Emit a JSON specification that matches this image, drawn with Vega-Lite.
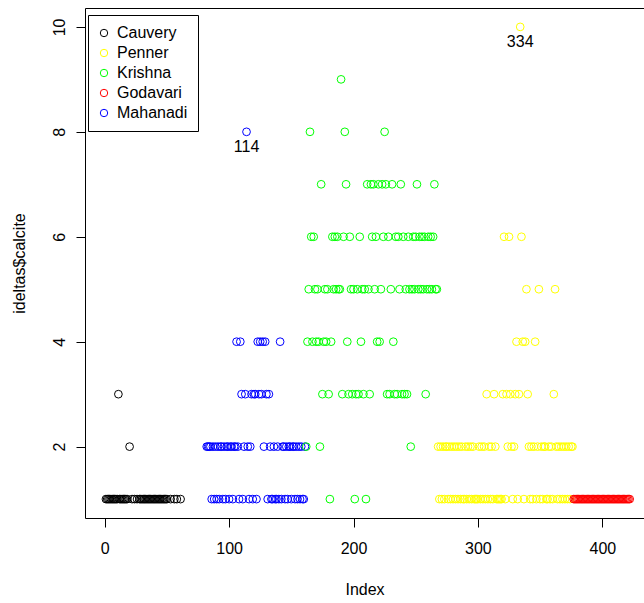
{
  "$schema": "https://vega.github.io/schema/vega-lite/v6.json",
  "autosize": "none",
  "width": 559,
  "height": 510,
  "padding": {"left": 85, "top": 8, "right": 0, "bottom": 85},
  "background": "white",
  "config": {
    "view": {"stroke": null},
    "font": "Liberation Sans",
    "axis": {"grid": false, "domainColor": "black", "tickColor": "black", "labelColor": "black", "titleColor": "black", "labelFont": "Liberation Sans", "titleFont": "Liberation Sans", "labelFontSize": 16, "titleFontSize": 16, "titleFontWeight": "normal", "tickSize": 9, "domainWidth": 1, "tickWidth": 1}
  },
  "datasets": {
    "pts": [
      {"i":1,"v":1,"r":"Cauvery"},{"i":2,"v":1,"r":"Cauvery"},{"i":3,"v":1,"r":"Cauvery"},{"i":4,"v":1,"r":"Cauvery"},{"i":5,"v":1,"r":"Cauvery"},{"i":6,"v":1,"r":"Cauvery"},{"i":7,"v":1,"r":"Cauvery"},{"i":8,"v":1,"r":"Cauvery"},{"i":9,"v":1,"r":"Cauvery"},{"i":10,"v":1,"r":"Cauvery"},
      {"i":11,"v":3,"r":"Cauvery"},{"i":12,"v":1,"r":"Cauvery"},{"i":13,"v":1,"r":"Cauvery"},{"i":14,"v":1,"r":"Cauvery"},{"i":15,"v":1,"r":"Cauvery"},{"i":16,"v":1,"r":"Cauvery"},{"i":17,"v":1,"r":"Cauvery"},{"i":18,"v":1,"r":"Cauvery"},
      {"i":20,"v":2,"r":"Cauvery"},{"i":22,"v":1,"r":"Cauvery"},{"i":24,"v":1,"r":"Cauvery"},{"i":26,"v":1,"r":"Cauvery"},
      {"i":28,"v":1,"r":"Cauvery"},{"i":29,"v":1,"r":"Cauvery"},{"i":30,"v":1,"r":"Cauvery"},{"i":31,"v":1,"r":"Cauvery"},{"i":32,"v":1,"r":"Cauvery"},{"i":33,"v":1,"r":"Cauvery"},{"i":34,"v":1,"r":"Cauvery"},{"i":35,"v":1,"r":"Cauvery"},{"i":36,"v":1,"r":"Cauvery"},{"i":37,"v":1,"r":"Cauvery"},{"i":38,"v":1,"r":"Cauvery"},{"i":39,"v":1,"r":"Cauvery"},{"i":40,"v":1,"r":"Cauvery"},{"i":41,"v":1,"r":"Cauvery"},{"i":42,"v":1,"r":"Cauvery"},{"i":43,"v":1,"r":"Cauvery"},{"i":44,"v":1,"r":"Cauvery"},{"i":45,"v":1,"r":"Cauvery"},{"i":46,"v":1,"r":"Cauvery"},{"i":47,"v":1,"r":"Cauvery"},{"i":48,"v":1,"r":"Cauvery"},{"i":49,"v":1,"r":"Cauvery"},{"i":50,"v":1,"r":"Cauvery"},
      {"i":53,"v":1,"r":"Cauvery"},{"i":56,"v":1,"r":"Cauvery"},{"i":58,"v":1,"r":"Cauvery"},{"i":61,"v":1,"r":"Cauvery"},
      {"i":82,"v":2,"r":"Mahanadi"},{"i":83,"v":2,"r":"Mahanadi"},{"i":84,"v":2,"r":"Mahanadi"},{"i":85,"v":2,"r":"Mahanadi"},{"i":86,"v":1,"r":"Mahanadi"},{"i":87,"v":2,"r":"Mahanadi"},{"i":88,"v":1,"r":"Mahanadi"},{"i":89,"v":2,"r":"Mahanadi"},{"i":90,"v":1,"r":"Mahanadi"},
      {"i":91,"v":2,"r":"Mahanadi"},{"i":92,"v":1,"r":"Mahanadi"},{"i":93,"v":2,"r":"Mahanadi"},{"i":94,"v":2,"r":"Mahanadi"},{"i":95,"v":1,"r":"Mahanadi"},{"i":96,"v":2,"r":"Mahanadi"},{"i":97,"v":1,"r":"Mahanadi"},{"i":98,"v":2,"r":"Mahanadi"},{"i":99,"v":2,"r":"Mahanadi"},{"i":100,"v":1,"r":"Mahanadi"},
      {"i":101,"v":2,"r":"Mahanadi"},{"i":102,"v":2,"r":"Mahanadi"},{"i":103,"v":1,"r":"Mahanadi"},{"i":104,"v":2,"r":"Mahanadi"},{"i":105,"v":2,"r":"Mahanadi"},{"i":106,"v":4,"r":"Mahanadi"},{"i":107,"v":2,"r":"Mahanadi"},{"i":108,"v":1,"r":"Mahanadi"},{"i":109,"v":4,"r":"Mahanadi"},{"i":110,"v":3,"r":"Mahanadi"},
      {"i":111,"v":1,"r":"Mahanadi"},{"i":112,"v":2,"r":"Mahanadi"},{"i":113,"v":3,"r":"Mahanadi"},{"i":114,"v":8,"r":"Mahanadi"},{"i":115,"v":2,"r":"Mahanadi"},{"i":116,"v":1,"r":"Mahanadi"},{"i":117,"v":2,"r":"Mahanadi"},{"i":118,"v":3,"r":"Mahanadi"},{"i":119,"v":1,"r":"Mahanadi"},{"i":120,"v":3,"r":"Mahanadi"},
      {"i":121,"v":3,"r":"Mahanadi"},{"i":122,"v":1,"r":"Mahanadi"},{"i":123,"v":4,"r":"Mahanadi"},{"i":124,"v":3,"r":"Mahanadi"},{"i":125,"v":4,"r":"Mahanadi"},{"i":126,"v":3,"r":"Mahanadi"},{"i":127,"v":4,"r":"Mahanadi"},{"i":128,"v":2,"r":"Mahanadi"},{"i":129,"v":4,"r":"Mahanadi"},{"i":130,"v":3,"r":"Mahanadi"},
      {"i":131,"v":1,"r":"Mahanadi"},{"i":132,"v":3,"r":"Mahanadi"},{"i":133,"v":2,"r":"Mahanadi"},{"i":134,"v":1,"r":"Mahanadi"},{"i":135,"v":1,"r":"Mahanadi"},{"i":136,"v":2,"r":"Mahanadi"},{"i":137,"v":1,"r":"Mahanadi"},{"i":138,"v":1,"r":"Mahanadi"},{"i":139,"v":2,"r":"Mahanadi"},{"i":140,"v":1,"r":"Mahanadi"},
      {"i":141,"v":4,"r":"Mahanadi"},{"i":142,"v":1,"r":"Mahanadi"},{"i":143,"v":2,"r":"Mahanadi"},{"i":144,"v":2,"r":"Mahanadi"},{"i":145,"v":1,"r":"Mahanadi"},{"i":146,"v":2,"r":"Mahanadi"},{"i":147,"v":1,"r":"Mahanadi"},{"i":148,"v":2,"r":"Mahanadi"},{"i":149,"v":2,"r":"Mahanadi"},{"i":150,"v":1,"r":"Mahanadi"},
      {"i":151,"v":2,"r":"Mahanadi"},{"i":152,"v":2,"r":"Mahanadi"},{"i":153,"v":1,"r":"Mahanadi"},{"i":154,"v":2,"r":"Mahanadi"},{"i":155,"v":1,"r":"Mahanadi"},{"i":156,"v":2,"r":"Mahanadi"},{"i":157,"v":1,"r":"Mahanadi"},{"i":158,"v":2,"r":"Mahanadi"},{"i":159,"v":1,"r":"Mahanadi"},{"i":160,"v":1,"r":"Mahanadi"},{"i":161,"v":2,"r":"Mahanadi"},
      {"i":162,"v":2,"r":"Krishna"},{"i":163,"v":4,"r":"Krishna"},{"i":164,"v":5,"r":"Krishna"},{"i":165,"v":8,"r":"Krishna"},{"i":166,"v":6,"r":"Krishna"},{"i":167,"v":4,"r":"Krishna"},{"i":168,"v":6,"r":"Krishna"},{"i":169,"v":5,"r":"Krishna"},{"i":170,"v":4,"r":"Krishna"},
      {"i":171,"v":5,"r":"Krishna"},{"i":172,"v":4,"r":"Krishna"},{"i":173,"v":2,"r":"Krishna"},{"i":174,"v":7,"r":"Krishna"},{"i":175,"v":3,"r":"Krishna"},{"i":176,"v":4,"r":"Krishna"},{"i":177,"v":5,"r":"Krishna"},{"i":178,"v":4,"r":"Krishna"},{"i":179,"v":5,"r":"Krishna"},{"i":180,"v":3,"r":"Krishna"},
      {"i":181,"v":1,"r":"Krishna"},{"i":182,"v":4,"r":"Krishna"},{"i":183,"v":6,"r":"Krishna"},{"i":184,"v":5,"r":"Krishna"},{"i":185,"v":6,"r":"Krishna"},{"i":186,"v":5,"r":"Krishna"},{"i":187,"v":6,"r":"Krishna"},{"i":188,"v":5,"r":"Krishna"},{"i":189,"v":5,"r":"Krishna"},{"i":190,"v":9,"r":"Krishna"},
      {"i":191,"v":3,"r":"Krishna"},{"i":192,"v":6,"r":"Krishna"},{"i":193,"v":8,"r":"Krishna"},{"i":194,"v":7,"r":"Krishna"},{"i":195,"v":4,"r":"Krishna"},{"i":196,"v":3,"r":"Krishna"},{"i":197,"v":6,"r":"Krishna"},{"i":198,"v":5,"r":"Krishna"},{"i":199,"v":3,"r":"Krishna"},{"i":200,"v":5,"r":"Krishna"},
      {"i":201,"v":1,"r":"Krishna"},{"i":202,"v":3,"r":"Krishna"},{"i":203,"v":5,"r":"Krishna"},{"i":204,"v":3,"r":"Krishna"},{"i":205,"v":6,"r":"Krishna"},{"i":206,"v":4,"r":"Krishna"},{"i":207,"v":5,"r":"Krishna"},{"i":208,"v":3,"r":"Krishna"},{"i":209,"v":5,"r":"Krishna"},{"i":210,"v":1,"r":"Krishna"},
      {"i":211,"v":7,"r":"Krishna"},{"i":212,"v":5,"r":"Krishna"},{"i":213,"v":3,"r":"Krishna"},{"i":214,"v":7,"r":"Krishna"},{"i":215,"v":6,"r":"Krishna"},{"i":216,"v":7,"r":"Krishna"},{"i":217,"v":5,"r":"Krishna"},{"i":218,"v":6,"r":"Krishna"},{"i":219,"v":4,"r":"Krishna"},{"i":220,"v":7,"r":"Krishna"},
      {"i":221,"v":4,"r":"Krishna"},{"i":222,"v":5,"r":"Krishna"},{"i":223,"v":7,"r":"Krishna"},{"i":224,"v":6,"r":"Krishna"},{"i":225,"v":8,"r":"Krishna"},{"i":226,"v":7,"r":"Krishna"},{"i":227,"v":3,"r":"Krishna"},{"i":228,"v":6,"r":"Krishna"},{"i":229,"v":3,"r":"Krishna"},{"i":230,"v":5,"r":"Krishna"},
      {"i":231,"v":7,"r":"Krishna"},{"i":232,"v":4,"r":"Krishna"},{"i":233,"v":3,"r":"Krishna"},{"i":234,"v":6,"r":"Krishna"},{"i":235,"v":3,"r":"Krishna"},{"i":236,"v":6,"r":"Krishna"},{"i":237,"v":5,"r":"Krishna"},{"i":238,"v":7,"r":"Krishna"},{"i":239,"v":3,"r":"Krishna"},{"i":240,"v":6,"r":"Krishna"},
      {"i":241,"v":3,"r":"Krishna"},{"i":242,"v":5,"r":"Krishna"},{"i":243,"v":3,"r":"Krishna"},{"i":244,"v":6,"r":"Krishna"},{"i":245,"v":5,"r":"Krishna"},{"i":246,"v":2,"r":"Krishna"},{"i":247,"v":5,"r":"Krishna"},{"i":248,"v":6,"r":"Krishna"},{"i":249,"v":5,"r":"Krishna"},{"i":250,"v":6,"r":"Krishna"},
      {"i":251,"v":7,"r":"Krishna"},{"i":252,"v":5,"r":"Krishna"},{"i":253,"v":6,"r":"Krishna"},{"i":254,"v":5,"r":"Krishna"},{"i":255,"v":6,"r":"Krishna"},{"i":256,"v":5,"r":"Krishna"},{"i":257,"v":6,"r":"Krishna"},{"i":258,"v":3,"r":"Krishna"},{"i":259,"v":5,"r":"Krishna"},{"i":260,"v":6,"r":"Krishna"},
      {"i":261,"v":5,"r":"Krishna"},{"i":262,"v":6,"r":"Krishna"},{"i":263,"v":5,"r":"Krishna"},{"i":264,"v":6,"r":"Krishna"},{"i":265,"v":7,"r":"Krishna"},{"i":266,"v":5,"r":"Krishna"},{"i":267,"v":5,"r":"Krishna"},
      {"i":268,"v":2,"r":"Penner"},{"i":269,"v":1,"r":"Penner"},{"i":270,"v":2,"r":"Penner"},{"i":271,"v":1,"r":"Penner"},{"i":272,"v":2,"r":"Penner"},{"i":273,"v":1,"r":"Penner"},{"i":274,"v":2,"r":"Penner"},{"i":275,"v":2,"r":"Penner"},{"i":276,"v":1,"r":"Penner"},{"i":277,"v":2,"r":"Penner"},
      {"i":278,"v":1,"r":"Penner"},{"i":279,"v":2,"r":"Penner"},{"i":280,"v":1,"r":"Penner"},{"i":281,"v":2,"r":"Penner"},{"i":282,"v":1,"r":"Penner"},{"i":283,"v":2,"r":"Penner"},{"i":284,"v":1,"r":"Penner"},{"i":285,"v":2,"r":"Penner"},{"i":286,"v":1,"r":"Penner"},{"i":287,"v":2,"r":"Penner"},
      {"i":288,"v":1,"r":"Penner"},{"i":289,"v":1,"r":"Penner"},{"i":290,"v":2,"r":"Penner"},{"i":291,"v":1,"r":"Penner"},{"i":292,"v":2,"r":"Penner"},{"i":293,"v":1,"r":"Penner"},{"i":294,"v":2,"r":"Penner"},{"i":295,"v":1,"r":"Penner"},{"i":296,"v":2,"r":"Penner"},{"i":297,"v":1,"r":"Penner"},
      {"i":298,"v":1,"r":"Penner"},{"i":299,"v":1,"r":"Penner"},{"i":300,"v":1,"r":"Penner"},{"i":301,"v":2,"r":"Penner"},{"i":302,"v":1,"r":"Penner"},{"i":303,"v":2,"r":"Penner"},{"i":304,"v":1,"r":"Penner"},{"i":305,"v":2,"r":"Penner"},{"i":306,"v":1,"r":"Penner"},{"i":307,"v":3,"r":"Penner"},
      {"i":308,"v":1,"r":"Penner"},{"i":309,"v":2,"r":"Penner"},{"i":310,"v":1,"r":"Penner"},{"i":311,"v":2,"r":"Penner"},{"i":312,"v":1,"r":"Penner"},{"i":313,"v":3,"r":"Penner"},{"i":314,"v":2,"r":"Penner"},{"i":315,"v":1,"r":"Penner"},{"i":316,"v":1,"r":"Penner"},{"i":317,"v":1,"r":"Penner"},
      {"i":318,"v":1,"r":"Penner"},{"i":319,"v":1,"r":"Penner"},{"i":320,"v":3,"r":"Penner"},{"i":321,"v":6,"r":"Penner"},{"i":322,"v":1,"r":"Penner"},{"i":323,"v":3,"r":"Penner"},{"i":324,"v":2,"r":"Penner"},{"i":325,"v":6,"r":"Penner"},{"i":326,"v":3,"r":"Penner"},{"i":327,"v":2,"r":"Penner"},
      {"i":328,"v":1,"r":"Penner"},{"i":329,"v":2,"r":"Penner"},{"i":330,"v":3,"r":"Penner"},{"i":331,"v":4,"r":"Penner"},{"i":332,"v":1,"r":"Penner"},{"i":333,"v":3,"r":"Penner"},{"i":334,"v":10,"r":"Penner"},{"i":335,"v":6,"r":"Penner"},{"i":336,"v":4,"r":"Penner"},{"i":337,"v":1,"r":"Penner"},
      {"i":338,"v":4,"r":"Penner"},{"i":339,"v":5,"r":"Penner"},{"i":340,"v":3,"r":"Penner"},{"i":341,"v":2,"r":"Penner"},{"i":342,"v":1,"r":"Penner"},{"i":343,"v":2,"r":"Penner"},{"i":344,"v":1,"r":"Penner"},{"i":345,"v":2,"r":"Penner"},{"i":346,"v":4,"r":"Penner"},{"i":347,"v":1,"r":"Penner"},
      {"i":348,"v":2,"r":"Penner"},{"i":349,"v":5,"r":"Penner"},{"i":350,"v":1,"r":"Penner"},{"i":351,"v":2,"r":"Penner"},{"i":352,"v":1,"r":"Penner"},{"i":353,"v":2,"r":"Penner"},{"i":354,"v":2,"r":"Penner"},{"i":355,"v":1,"r":"Penner"},{"i":356,"v":1,"r":"Penner"},{"i":357,"v":2,"r":"Penner"},
      {"i":358,"v":1,"r":"Penner"},{"i":359,"v":2,"r":"Penner"},{"i":360,"v":1,"r":"Penner"},{"i":361,"v":3,"r":"Penner"},{"i":362,"v":5,"r":"Penner"},{"i":363,"v":2,"r":"Penner"},{"i":364,"v":1,"r":"Penner"},{"i":365,"v":2,"r":"Penner"},{"i":366,"v":1,"r":"Penner"},{"i":367,"v":2,"r":"Penner"},
      {"i":368,"v":1,"r":"Penner"},{"i":369,"v":2,"r":"Penner"},{"i":370,"v":1,"r":"Penner"},{"i":371,"v":2,"r":"Penner"},{"i":372,"v":1,"r":"Penner"},{"i":373,"v":2,"r":"Penner"},{"i":374,"v":1,"r":"Penner"},{"i":375,"v":2,"r":"Penner"},{"i":376,"v":2,"r":"Penner"},
      {"i":377,"v":1,"r":"Godavari"},{"i":378,"v":1,"r":"Godavari"},{"i":379,"v":1,"r":"Godavari"},{"i":380,"v":1,"r":"Godavari"},{"i":381,"v":1,"r":"Godavari"},{"i":382,"v":1,"r":"Godavari"},{"i":383,"v":1,"r":"Godavari"},{"i":384,"v":1,"r":"Godavari"},{"i":385,"v":1,"r":"Godavari"},{"i":386,"v":1,"r":"Godavari"},
      {"i":387,"v":1,"r":"Godavari"},{"i":388,"v":1,"r":"Godavari"},{"i":389,"v":1,"r":"Godavari"},{"i":390,"v":1,"r":"Godavari"},{"i":391,"v":1,"r":"Godavari"},{"i":392,"v":1,"r":"Godavari"},{"i":393,"v":1,"r":"Godavari"},{"i":394,"v":1,"r":"Godavari"},{"i":395,"v":1,"r":"Godavari"},{"i":396,"v":1,"r":"Godavari"},
      {"i":397,"v":1,"r":"Godavari"},{"i":398,"v":1,"r":"Godavari"},{"i":399,"v":1,"r":"Godavari"},{"i":400,"v":1,"r":"Godavari"},{"i":401,"v":1,"r":"Godavari"},{"i":402,"v":1,"r":"Godavari"},{"i":403,"v":1,"r":"Godavari"},{"i":404,"v":1,"r":"Godavari"},{"i":405,"v":1,"r":"Godavari"},{"i":406,"v":1,"r":"Godavari"},
      {"i":407,"v":1,"r":"Godavari"},{"i":408,"v":1,"r":"Godavari"},{"i":409,"v":1,"r":"Godavari"},{"i":410,"v":1,"r":"Godavari"},{"i":411,"v":1,"r":"Godavari"},{"i":412,"v":1,"r":"Godavari"},{"i":413,"v":1,"r":"Godavari"},{"i":414,"v":1,"r":"Godavari"},{"i":415,"v":1,"r":"Godavari"},{"i":416,"v":1,"r":"Godavari"},
      {"i":417,"v":1,"r":"Godavari"},{"i":418,"v":1,"r":"Godavari"},{"i":419,"v":1,"r":"Godavari"},{"i":420,"v":1,"r":"Godavari"},{"i":421,"v":1,"r":"Godavari"},{"i":422,"v":1,"r":"Godavari"}
    ]
  },
  "data": {"name": "pts"},
  "layer": [
    {
      "mark": {"type": "point", "shape": "circle", "filled": false, "size": 60, "strokeWidth": 1, "opacity": 1},
      "encoding": {
        "x": {"field": "i", "type": "quantitative", "scale": {"domain": [-15.84, 433.5], "nice": false, "zero": false},
              "axis": {"orient": "bottom", "values": [0, 100, 200, 300, 400], "title": "Index", "labelPadding": 13, "titlePadding": 25, "labelFlush": false}},
        "y": {"field": "v", "type": "quantitative", "scale": {"domain": [0.64, 10.36], "nice": false, "zero": false},
              "axis": {"values": [2, 4, 6, 8, 10], "title": "ideltas$calcite", "labelAngle": 270, "labelAlign": "center", "labelBaseline": "bottom", "labelPadding": 9, "titlePadding": 24, "labelFlush": false}},
        "color": {"field": "r", "type": "nominal",
                  "scale": {"domain": ["Cauvery", "Penner", "Krishna", "Godavari", "Mahanadi"], "range": ["#000000", "#FFFF00", "#00FF00", "#FF0000", "#0000FF"]},
                  "legend": {"title": null, "orient": "none", "legendX": 3, "legendY": 7, "strokeColor": "black", "fillColor": "white", "padding": 10, "labelFontSize": 16, "labelFont": "Liberation Sans", "labelColor": "black", "symbolSize": 55, "symbolStrokeWidth": 1, "symbolType": "circle", "rowPadding": 4, "labelOffset": 5, "symbolOpacity": 1, "symbolOffset": -2}}
      }
    },
    {
      "transform": [{"filter": "datum.i == 114 || datum.i == 334"}],
      "mark": {"type": "text", "dy": 15, "fontSize": 16, "font": "Liberation Sans", "color": "black", "baseline": "middle", "align": "center"},
      "encoding": {
        "x": {"field": "i", "type": "quantitative", "axis": {"orient": "top", "labels": false, "ticks": false, "title": null, "domain": true}},
        "y": {"field": "v", "type": "quantitative"},
        "text": {"field": "i", "type": "quantitative"}
      }
    }
  ],
  "resolve": {"axis": {"x": "independent"}}
}
